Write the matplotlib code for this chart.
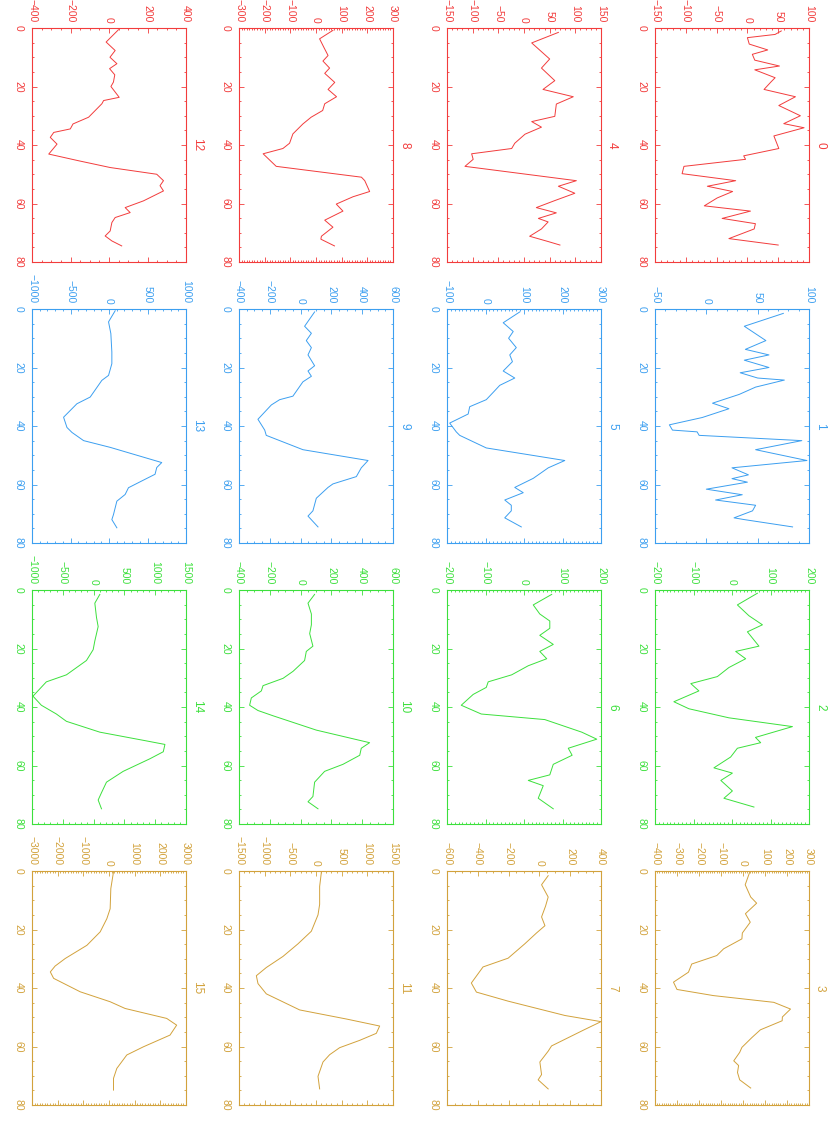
import numpy as np
import matplotlib
matplotlib.use('Agg')
import matplotlib.pyplot as plt
import matplotlib.ticker as ticker

# page is a 4x4 landscape grid turned 90 degrees clockwise
x_00 = [1, 2.2, 3.3, 5.5, 7.5, 9, 11, 13, 14.3, 17, 18.5, 21, 23.5, 26.5, 30, 32.7, 34.1, 36.9, 41.2, 43.7, 44.9,
        47.3, 49.8, 52.2, 54.1, 55.9, 58.1, 60.8, 62.6, 65.1, 66.9, 68.7, 72, 74.2]
y_00 = [55, 45, 0, 3, 33, 8, 12, 52, 12, 45, 38, 27, 78, 51, 86, 59, 92, 43, 51, -6, -3,
        -103, -106, -19, -65, -24, -49, -70, 5, -41, 13, 11, -30, 50]
x_01 = [1.5, 5.9, 10.8, 13.8, 15.7, 17.5, 20, 21.8, 23.6, 24.3, 26.7, 29.2, 32.2, 34.1, 37.1, 39.6, 41.4, 42,
        43.2, 45, 48.1, 51.8, 54.3, 56.7, 58, 59.2, 61.6, 63.5, 65.3, 67.1, 69, 71.4, 72, 74.5]
y_01 = [75, 37, 58, 38, 61, 37, 61, 33, 50, 76, 48, 32, 6, 22, -4, -36, -33, -9,
        -7, 93, 48, 98, 25, 41, 25, 40, 0, 35, 9, 48, 45, 27, 37, 84]
x_02 = [1.1, 5.1, 8.8, 11.9, 14.3, 19.2, 21, 23.5, 26.5, 29.6, 32, 34.5, 38.2, 40.6, 43.7, 46.7, 50.4, 52.2,
        54.1, 57.1, 60.8, 62.6, 65.1, 68.7, 71.2, 74.2]
y_02 = [66, 14, 44, 79, 40, 70, 9.5, 35.5, -8, -38, -107, -86, -151, -112, -8, 157, 61, 74.5,
        14, -3.5, -47, 1, -29, 1, -21, 57]
x_03 = [0.5, 4.7, 8.9, 11, 14.6, 17.5, 21.2, 23.2, 26.6, 28.9, 31.8, 34.6, 38, 40.5, 42.6, 44.9, 47.2, 49.9,
        51.2, 54.3, 56.9, 60.3, 62, 64.9, 66.5, 68.9, 71.4, 74.2]
y_03 = [30, 10, 35, 62, 11, 33, -3, -5, -88, -119, -233, -248, -316, -300, -134, 140, 216, 179,
        178, 79, 41, -5, -15, -42, -20, -25, -15, 35]
x_04 = [1.5, 5.1, 10.6, 13.7, 18, 21, 23.5, 26, 30.2, 32, 33.9, 36.3, 39.4, 41.2, 43, 44.9, 47.3, 52.2,
        54.1, 56.5, 59, 61.4, 63.2, 65.1, 66.3, 68.7, 71.2, 73, 74.2]
y_04 = [67, 15, 50, 34, 60, 37, 96, 63, 60, 15, 34, 2, -18, -24, -102, -99, -115, 102,
        67, 99, 60, 24, 63, 28, 47, 34, 11, 47, 70]
x_05 = [1, 4.7, 7.7, 10, 13.2, 15.7, 18, 21.2, 23.6, 26.1, 28.5, 31, 33.4, 35.9, 39, 42, 43.2, 47.5,
        51.8, 54.3, 57.9, 61, 62.8, 65.3, 67.1, 69, 71.4, 74.5]
y_05 = [89, 46, 72, 60, 80, 63, 70, 46, 76, 37, 20, 2, -41, -45, -93, -76, -67, 2,
        206, 163, 124, 76, 98, 50, 67, 67, 50, 93]
x_06 = [1.5, 5.1, 8.2, 10.6, 13.1, 15.5, 18.6, 21, 23.5, 25.9, 29, 31.4, 33.3, 35.7, 39.4, 42.4, 44.3, 48.6,
        51, 54.1, 56.5, 59.6, 63.2, 65.1, 66.9, 71.2, 74.8]
y_06 = [72, 24, 41, 67, 67, 41, 76, 41, 59, 11, -32, -93, -98, -132, -163, -111, 54, 150,
        189, 115, 125, 76, 67, 11, 50, 37, 76]
x_07 = [1.6, 4.7, 8.9, 12, 15.7, 18.7, 21.2, 24.9, 29.8, 32.8, 38.3, 41.4, 44.5, 49.4, 51.5, 54.3, 56.7,
        59.8, 61.6, 65.3, 69.6, 71.4, 74.5]
y_07 = [57, 14, 57, 40, 14, 36, -19, -95, -203, -366, -442, -409, -203, 166, 400, 290, 198,
        79, 57, 3, 14, -8, 57]
x_08 = [0.8, 3.7, 6.5, 9.4, 11.3, 13.7, 15.5, 18.6, 21, 23.5, 25.9, 28.2, 30.5, 32.8, 36.2, 39.4, 41.2, 43,
        47.3, 51, 52.2, 55.9, 57.7, 60.2, 62.6, 65.7, 68.1, 71.2, 72.2, 74.5]
y_08 = [66, 14, 30, 47, 27, 53, 34, 73, 47, 80, 34, 26, -19, -51, -90, -103, -129, -206,
        -155, 177, 190, 209, 144, 79, 105, 34, 66, 21, 19, 72]
x_09 = [1, 5.9, 8.3, 10.8, 13.2, 15.7, 19.4, 21.2, 23, 24.9, 29.8, 31, 32.8, 37.7, 41.4, 43.2, 48.1, 51.8,
        54.3, 57.3, 59.8, 61, 64.7, 69, 70.8, 74.5]
y_09 = [91, 26, 70, 37, 70, 48, 91, 48, 70, 15, -50, -136, -190, -277, -233, -223, 15, 438,
        394, 362, 210, 178, 102, 80, 48, 113]
x_10 = [1.5, 4.5, 8.2, 11.9, 14.9, 19.2, 21, 24.1, 27.8, 30.2, 32.7, 34.5, 36.9, 39.4, 41.2, 43, 47.9, 52.2,
        54.1, 56.5, 59.6, 62, 65.7, 70.6, 72.4, 74.8]
y_10 = [91, 48, 70, 70, 59, 80, 37, 26, -49, -114, -244, -255, -320, -331, -277, -179, 102, 448,
        394, 384, 275, 156, 91, 80, 48, 113]
x_11 = [0.5, 5.3, 11.4, 15, 20.6, 24.9, 29.2, 33, 35.8, 38.5, 42, 47.5, 50.6, 53, 55.5, 57.9, 60.4, 62.8,
        65.3, 70.2, 74.5]
y_11 = [104, 71, 71, 39, -91, -351, -643, -968, -1162, -1130, -968, -318, 591, 1240, 1175, 851, 461, 266,
        136, 39, 71]
x_12 = [0.6, 4.8, 7.7, 10, 12.2, 13.9, 16, 18.5, 20, 23.7, 24.8, 25.9, 30.5, 32.8, 34.5, 35.7, 37.4, 39.7,
        43.1, 45.4, 47.7, 50, 52.2, 53.9, 55.7, 59.1, 61.4, 63.1, 64.8, 66.5, 69.4, 71.1, 72.8, 74.5]
y_12 = [49, -15, 32, 5, 41, 3, 30, 23, 10, 53, -28, -37, -106, -187, -201, -287, -305, -270,
        -313, -157, 6, 248, 283, 265, 283, 179, 84, 110, 32, 15, 6, -20, 15, 66]
x_13 = [0.6, 4.4, 8.4, 14.7, 18.7, 22.7, 24.4, 30.1, 32.4, 37, 40.5, 42.2, 45, 47.3, 52.5, 54.2, 56.5,
        58.8, 61.1, 63.4, 65.7, 70.3, 72, 74.8]
y_13 = [80, -6, 24, 37, 37, -6, -93, -244, -417, -590, -546, -481, -330, 15, 685, 620, 598,
        425, 253, 210, 102, 58, 37, 102]
x_14 = [1.5, 4.5, 9.4, 12.5, 17.4, 20.4, 24.1, 29, 31.4, 36.3, 39.4, 42.4, 44.9, 48.6, 51.6, 52.8, 55.3,
        57.7, 62, 65.7, 69.3, 71.8, 74.8]
y_14 = [101, 20, 47, 74, 20, -7, -116, -441, -767, -984, -848, -604, -441, 101, 860, 1158, 1131,
        914, 480, 209, 128, 74, 128]
x_15 = [0.3, 6, 12.9, 16.3, 20.8, 25.4, 29.9, 32.5, 34.5, 36.7, 41.3, 44.7, 47, 50.4, 52.7, 56.1, 60.1,
        62.9, 67.5, 70.9, 74.9]
y_15 = [175, 71, 45, -84, -343, -861, -1703, -2100, -2286, -2157, -1121, 45, 628, 2248, 2636, 2377, 1341,
        693, 304, 175, 175]

lows = [-150, -50, -200, -400, -150, -100, -200, -600, -300, -400, -400, -1500, -400, -1000, -1000, -3000]
highs = [100, 100, 200, 300, 150, 300, 200, 400, 300, 600, 600, 1500, 400, 1000, 1500, 3000]
steps = [50, 50, 100, 100, 50, 100, 100, 200, 100, 200, 200, 500, 200, 500, 500, 1000]
titles = [str(i) for i in range(16)]

xs = [x_00, x_01, x_02, x_03, x_04, x_05, x_06, x_07, x_08, x_09, x_10, x_11, x_12, x_13, x_14, x_15]
ys = [y_00, y_01, y_02, y_03, y_04, y_05, y_06, y_07, y_08, y_09, y_10, y_11, y_12, y_13, y_14, y_15]

colors = ['#f23c3c', '#3c9ff0', '#3ce03c', '#d2a23c']

W, H = 830, 1127
col_left = [655, 447, 239, 32]   # pixel left edge per original row
row_top = [28, 309, 590, 871]    # pixel top edge per original column
pw, ph = 154, 234

plt.rcParams['font.family'] = ['Liberation Sans', 'DejaVu Sans']
plt.rcParams['axes.unicode_minus'] = True

fig = plt.figure(figsize=(W / 100, H / 100), dpi=100)

for i in range(16):
    r, c = i // 4, i % 4
    col = colors[c]
    ax = fig.add_axes([col_left[r] / W, 1 - (row_top[c] + ph) / H, pw / W, ph / H])
    ax.plot(ys[i], xs[i], color=col, lw=0.7)
    ax.set_xlim(lows[i], highs[i])
    ax.set_ylim(80, 0)

    step = steps[i]
    first = str(step)[0]
    nminor = 10 if first == '1' else (4 if first == '2' else 5)
    ax.xaxis.set_major_locator(ticker.MultipleLocator(step))
    ax.xaxis.set_minor_locator(ticker.MultipleLocator(step / nminor))
    ax.yaxis.set_major_locator(ticker.MultipleLocator(20))
    ax.yaxis.set_minor_locator(ticker.MultipleLocator(5))

    ax.tick_params(which='both', direction='in', top=True, bottom=True, left=True, right=True,
                   color=col, labelcolor=col, width=0.6)
    ax.tick_params(which='major', length=3.5)
    ax.tick_params(which='minor', length=1.6)
    ax.tick_params(axis='x', labeltop=True, labelbottom=False, labelsize=7.5, pad=4, labelrotation=-90)
    ax.tick_params(axis='y', labelsize=7.5, pad=6, labelrotation=-90)
    for lab in ax.get_yticklabels():
        lab.set_va('center')
    for sp in ax.spines.values():
        sp.set_color(col)
        sp.set_linewidth(0.8)

    ax.text(1 + 11 / pw, 0.5, titles[i], transform=ax.transAxes, rotation=-90,
            ha='center', va='center', color=col, fontsize=8.5)

fig.savefig('out.png', dpi=100)
